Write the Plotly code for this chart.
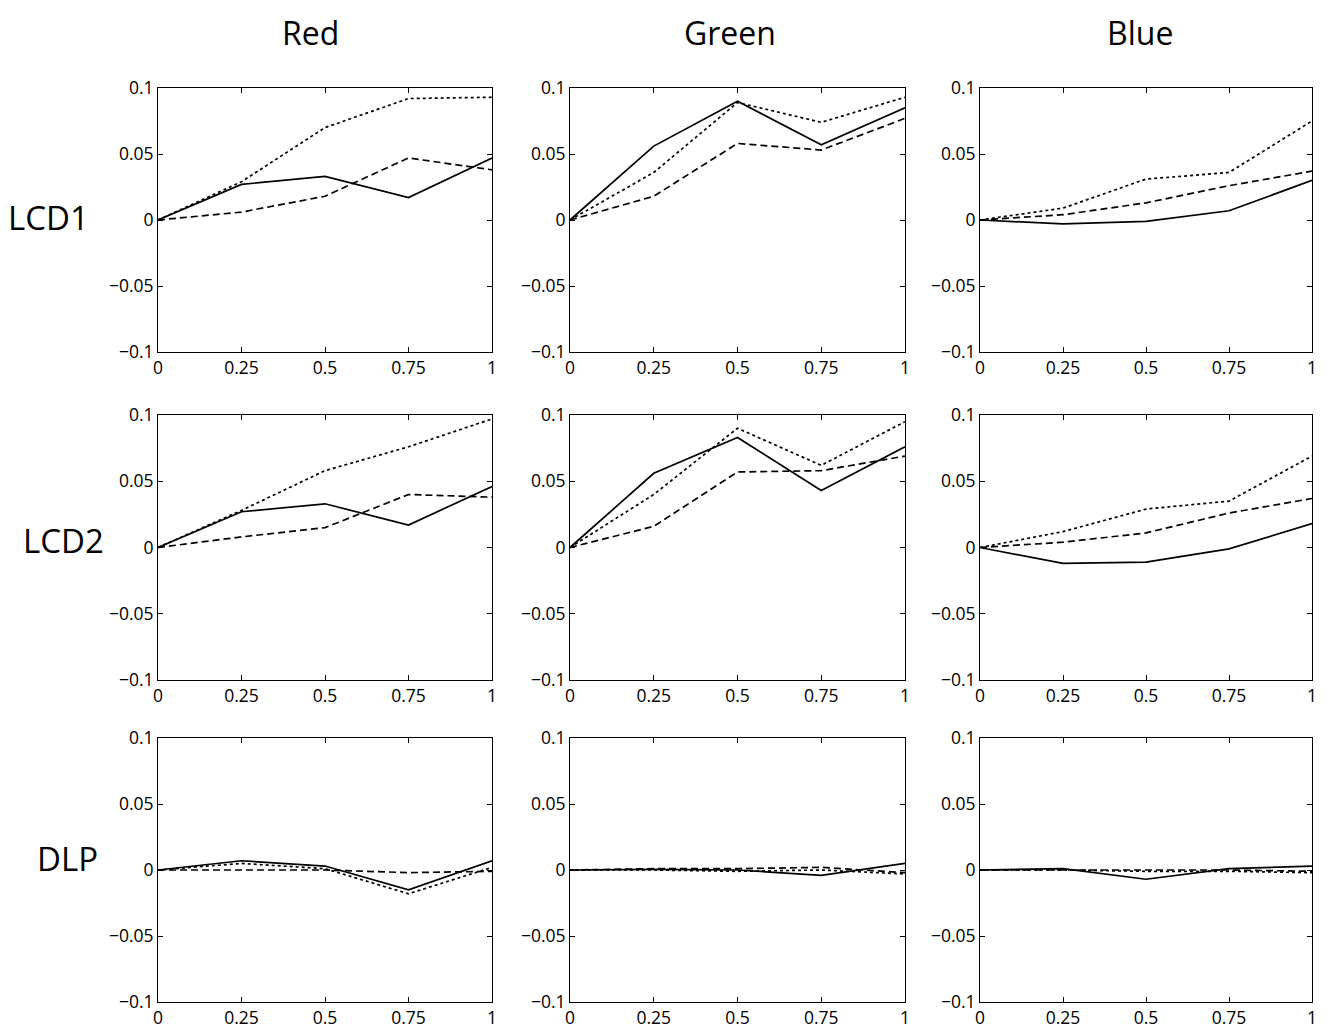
import plotly.graph_objects as go
from plotly.subplots import make_subplots

x_vals = [0, 0.25, 0.5, 0.75, 1]
columns = ["Red", "Green", "Blue"]
rows = ["LCD1", "LCD2", "DLP"]

# solid / dashed / dotted series per panel (row, col)
solid = {
    ("LCD1", "Red"):   [0, 0.027, 0.033, 0.017, 0.047],
    ("LCD1", "Green"): [0, 0.056, 0.090, 0.057, 0.085],
    ("LCD1", "Blue"):  [0, -0.003, -0.001, 0.007, 0.030],
    ("LCD2", "Red"):   [0, 0.027, 0.033, 0.017, 0.046],
    ("LCD2", "Green"): [0, 0.056, 0.083, 0.043, 0.076],
    ("LCD2", "Blue"):  [0, -0.012, -0.011, -0.001, 0.018],
    ("DLP", "Red"):    [0, 0.007, 0.003, -0.015, 0.007],
    ("DLP", "Green"):  [0, 0.0005, 0.0, -0.004, 0.005],
    ("DLP", "Blue"):   [0, 0.001, -0.007, 0.001, 0.003],
}
dashed = {
    ("LCD1", "Red"):   [0, 0.006, 0.018, 0.047, 0.038],
    ("LCD1", "Green"): [0, 0.018, 0.058, 0.053, 0.077],
    ("LCD1", "Blue"):  [0, 0.004, 0.013, 0.026, 0.037],
    ("LCD2", "Red"):   [0, 0.008, 0.015, 0.040, 0.038],
    ("LCD2", "Green"): [0, 0.016, 0.057, 0.058, 0.069],
    ("LCD2", "Blue"):  [0, 0.004, 0.011, 0.026, 0.037],
    ("DLP", "Red"):    [0, 0.0, 0.0, -0.002, -0.001],
    ("DLP", "Green"):  [0, 0.001, 0.001, 0.002, -0.002],
    ("DLP", "Blue"):   [0, 0.0, 0.0, 0.0, -0.001],
}
dotted = {
    ("LCD1", "Red"):   [0, 0.029, 0.070, 0.092, 0.093],
    ("LCD1", "Green"): [0, 0.036, 0.089, 0.074, 0.093],
    ("LCD1", "Blue"):  [0, 0.009, 0.031, 0.036, 0.075],
    ("LCD2", "Red"):   [0, 0.028, 0.058, 0.076, 0.097],
    ("LCD2", "Green"): [0, 0.040, 0.090, 0.062, 0.095],
    ("LCD2", "Blue"):  [0, 0.012, 0.029, 0.035, 0.069],
    ("DLP", "Red"):    [0, 0.005, 0.001, -0.018, 0.002],
    ("DLP", "Green"):  [0, 0.0, -0.001, 0.0, -0.003],
    ("DLP", "Blue"):   [0, 0.0, -0.001, -0.001, -0.002],
}

x_ticks = [0, 0.25, 0.5, 0.75, 1]
x_ticktext = ["0", "0.25", "0.5", "0.75", "1"]
y_ticks = [-0.1, -0.05, 0, 0.05, 0.1]
y_ticktext = ["\u22120.1", "\u22120.05", "0", "0.05", "0.1"]

W, H = 1330, 1028
OFF = 8  # page body margin in the browser
col_px = [(158, 492), (570, 905), (980, 1312)]
row_px = [(88, 352), (415, 680), (738, 1002)]


def fx(px):
    return (px - OFF) / W


def fy(py):
    return 1 - (py - OFF) / H


fig = make_subplots(rows=3, cols=3)

styles = [("solid", solid), ("7px,4px", dashed), ("dot", dotted)]
for ri, r in enumerate(rows):
    for ci, c in enumerate(columns):
        for dash, data in styles:
            fig.add_trace(
                go.Scatter(x=x_vals, y=data[(r, c)], mode="lines",
                           line=dict(color="black", width=1.7, dash=dash),
                           showlegend=False, hoverinfo="skip"),
                row=ri + 1, col=ci + 1)
        x0, x1 = col_px[ci]
        y0, y1 = row_px[ri]
        fig.update_xaxes(domain=[fx(x0), fx(x1)], range=[0, 1],
                         tickvals=x_ticks, ticktext=x_ticktext,
                         ticks="inside", ticklen=5, tickcolor="black",
                         showline=True, linecolor="black", linewidth=1,
                         mirror="ticks", showgrid=False, zeroline=False,
                         automargin=False,
                         tickfont=dict(size=17.5, color="black"),
                         row=ri + 1, col=ci + 1)
        fig.update_yaxes(domain=[fy(y1), fy(y0)], range=[-0.1, 0.1],
                         tickvals=y_ticks, ticktext=y_ticktext,
                         ticks="inside", ticklen=5, tickcolor="black",
                         showline=True, linecolor="black", linewidth=1,
                         mirror="ticks", showgrid=False, zeroline=False,
                         automargin=False,
                         tickfont=dict(size=17.5, color="black"),
                         row=ri + 1, col=ci + 1)

annotations = []
col_title_x = [310, 730, 1140]
for ci, c in enumerate(columns):
    annotations.append(dict(text=c, x=fx(col_title_x[ci]), y=fy(9),
                            xref="paper", yref="paper", showarrow=False,
                            font=dict(size=32, color="black"),
                            xanchor="center", yanchor="top"))
row_label_pos = [(48, 218), (63, 540), (67, 858)]
for ri, r in enumerate(rows):
    px, py = row_label_pos[ri]
    annotations.append(dict(text=r, x=fx(px), y=fy(py),
                            xref="paper", yref="paper", showarrow=False,
                            font=dict(size=33, color="black"),
                            xanchor="center", yanchor="middle"))

fig.update_layout(
    width=W, height=H,
    margin=dict(l=0, r=0, t=0, b=0),
    paper_bgcolor="white", plot_bgcolor="white",
    font=dict(family="Open Sans, sans-serif", color="black"),
    annotations=annotations,
)

fig.write_html("out.html")
